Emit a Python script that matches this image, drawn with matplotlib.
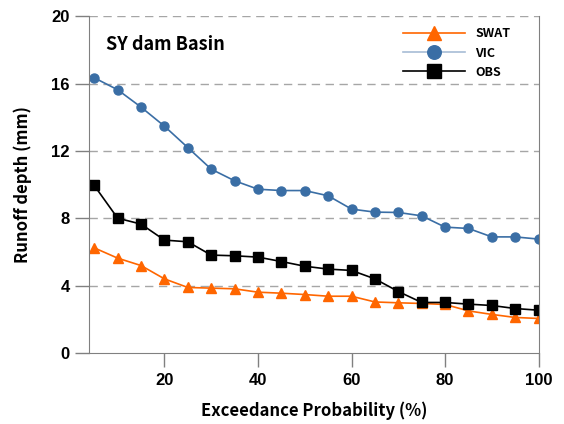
import matplotlib.pyplot as plt
import numpy as np

# Exceedance probability (%)
prob = np.arange(5, 101, 5)

# Runoff depth (mm) for each series
swat = [6.25, 5.64, 5.20, 4.41, 3.90, 3.86, 3.82, 3.62, 3.56, 3.48,
        3.38, 3.38, 3.04, 2.99, 2.95, 2.89, 2.51, 2.30, 2.12, 2.06]
vic = [16.34, 15.63, 14.60, 13.47, 12.20, 10.92, 10.23, 9.73, 9.65, 9.65,
       9.34, 8.55, 8.37, 8.35, 8.15, 7.48, 7.40, 6.90, 6.90, 6.77]
obs = [9.95, 8.01, 7.66, 6.71, 6.61, 5.82, 5.78, 5.70, 5.44, 5.16,
       4.99, 4.91, 4.41, 3.66, 3.01, 3.01, 2.91, 2.83, 2.65, 2.55]

yticks = [0, 4, 8, 12, 16, 20]
xticks = [20, 40, 60, 80, 100]

tick_font = "Liberation Sans"
label_font = "Noto Sans CJK KR"

fig = plt.figure(figsize=(5.64, 4.24), dpi=100)
ax = fig.add_axes([0.158, 0.167, 0.797, 0.795])

for y in yticks[1:]:
    ax.axhline(y, color="#a6a6a6", lw=1, ls=(0, (6, 4)), zorder=0)

ax.plot(prob, swat, color="#ff6600", marker="^", ms=6.5, lw=1.2, label="SWAT")
ax.plot(prob, vic, color="#3a6ea5", marker="o", ms=6.5, lw=1.2, label="VIC")
ax.plot(prob, obs, color="black", marker="s", ms=6.5, lw=1.2, label="OBS")

ax.set_xlim(3.9, 100)
ax.set_ylim(0, 20)
ax.set_xticks(xticks)
ax.set_yticks(yticks)
ax.tick_params(direction="out", length=10, width=1, color="#808080", pad=4)
for lab in ax.get_xticklabels() + ax.get_yticklabels():
    lab.set_fontfamily(tick_font)
    lab.set_fontweight("bold")
    lab.set_fontsize(12)

for side in ["left", "bottom", "right"]:
    ax.spines[side].set_color("#808080")
ax.spines["top"].set_visible(False)

ax.set_xlabel("Exceedance Probability (%)", family=label_font, fontweight="bold", fontsize=12, labelpad=10)
ax.set_ylabel("Runoff depth (mm)", family=label_font, fontweight="bold", fontsize=12, labelpad=14)

ax.text(0.038, 0.915, "SY dam Basin", transform=ax.transAxes, family=label_font,
        fontweight="bold", fontsize=13, va="center")

leg = ax.legend(loc="upper right", bbox_to_anchor=(0.962, 1.0), frameon=False,
                prop={"family": label_font, "weight": "bold", "size": 9},
                handlelength=5.0, labelspacing=0.5, handletextpad=0.8, markerscale=1.5)
# the VIC legend line is drawn lighter in the reference
leg.get_lines()[1].set_color("#a7bcd6")
leg.get_lines()[1].set_markerfacecolor("#3a6ea5")
leg.get_lines()[1].set_markeredgecolor("#3a6ea5")

fig.savefig("out.png", dpi=100)
